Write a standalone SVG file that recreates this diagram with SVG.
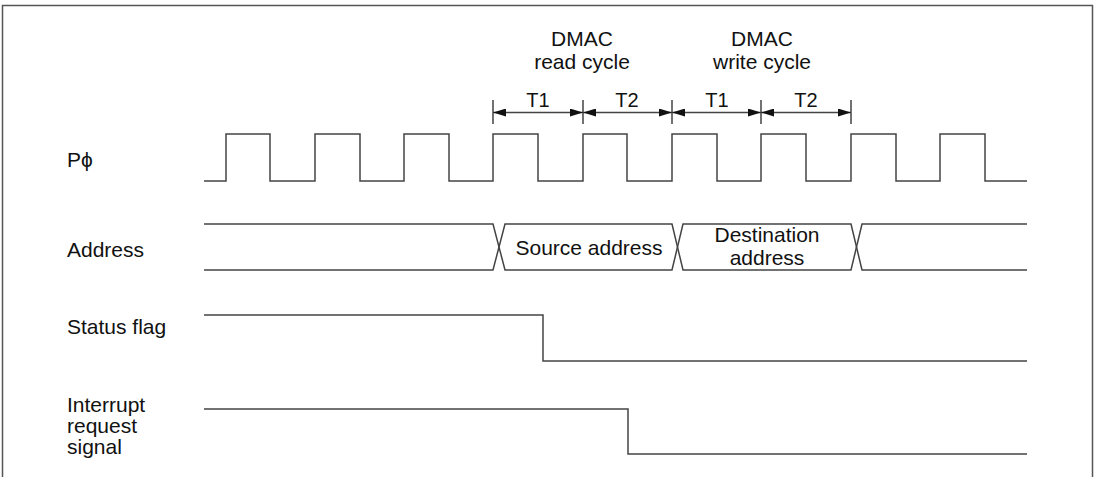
<svg xmlns="http://www.w3.org/2000/svg" width="1098" height="477" viewBox="0 0 1098 477">
<style>
.t{font-family:"Liberation Sans",Arial,sans-serif;font-size:21px;fill:#111}
.c{text-anchor:middle}
.s{font-size:20px}
.w{fill:none;stroke:#444;stroke-width:1.5}
</style>
<defs>
<marker id="ah" viewBox="0 0 13 8" refX="13" refY="4" markerWidth="13" markerHeight="8" markerUnits="userSpaceOnUse" orient="auto-start-reverse">
<path d="M0,0 L13,4 L0,8 Z" fill="#111"/>
</marker>
</defs>
<rect width="1098" height="477" fill="#fff"/>
<path d="M2.5,477 V5.5 H1092.5 V477" fill="none" stroke="#555" stroke-width="1.5"/>
<g id="labels">
<text class="t" x="67" y="167">Pϕ</text>
<text class="t" x="67" y="257">Address</text>
<text class="t" x="67" y="334">Status flag</text>
<text class="t" x="67" y="412">Interrupt</text>
<text class="t" x="67" y="433">request</text>
<text class="t" x="67" y="454">signal</text>
</g>
<g id="header">
<text class="t c" x="582" y="46">DMAC</text>
<text class="t c" x="582" y="69">read cycle</text>
<text class="t c" x="762" y="46">DMAC</text>
<text class="t c" x="762" y="69">write cycle</text>
<text class="t c s" x="538" y="107">T1</text>
<text class="t c s" x="627" y="107">T2</text>
<text class="t c s" x="717" y="107">T1</text>
<text class="t c s" x="806" y="107">T2</text>
</g>
<g id="connectors">
<path class="w" d="M493,100 V124 M583,100 V124 M672,100 V124 M761,100 V124 M851,100 V124" stroke-width="1.2"/>
<line class="w" x1="493" y1="112.5" x2="583" y2="112.5" marker-start="url(#ah)" marker-end="url(#ah)" stroke-width="1.2"/>
<line class="w" x1="583" y1="112.5" x2="672" y2="112.5" marker-start="url(#ah)" marker-end="url(#ah)" stroke-width="1.2"/>
<line class="w" x1="672" y1="112.5" x2="761" y2="112.5" marker-start="url(#ah)" marker-end="url(#ah)" stroke-width="1.2"/>
<line class="w" x1="761" y1="112.5" x2="851" y2="112.5" marker-start="url(#ah)" marker-end="url(#ah)" stroke-width="1.2"/>
</g>
<g id="clock">
<path class="w" d="M204,181 H226 V134 H270 V181 H315 V134 H360 V181 H404 V134 H449 V181 H493 V134 H538 V181 H583 V134 H627 V181 H672 V134 H717 V181 H761 V134 H806 V181 H851 V134 H896 V181 H940 V134 H985 V181 H1027"/>
</g>
<g id="address">
<path class="w" d="M204,224 H493 L505,270 H672 L683,224 H851 L862,270 H1027"/>
<path class="w" d="M204,270 H493 L505,224 H672 L683,270 H851 L862,224 H1027"/>
<text class="t c" x="589" y="255">Source address</text>
<text class="t c" x="767" y="242">Destination</text>
<text class="t c" x="767" y="265">address</text>
</g>
<g id="status">
<path class="w" d="M204,315 H543 V361 H1027"/>
</g>
<g id="interrupt">
<path class="w" d="M204,409 H628 V454 H1027"/>
</g>
</svg>
